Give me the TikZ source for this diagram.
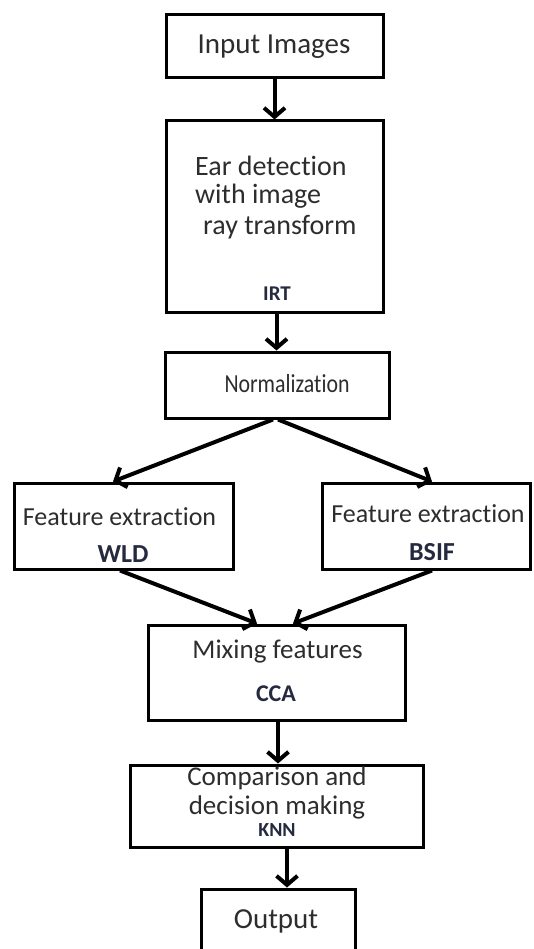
\documentclass[tikz,border=0pt]{standalone}
\usepackage{fontspec}
\setmainfont{Carlito}[Ligatures=NoCommon]
\usetikzlibrary{arrows.meta}
\newcommand\fsz[1]{\fontsize{#1}{#1}\selectfont}
\definecolor{txtgray}{RGB}{45,45,45}
\definecolor{lblnavy}{RGB}{38,42,62}
\begin{document}
\begin{tikzpicture}[x=1pt,y=-1pt,
  box/.style={draw=black,line width=3pt,rectangle,inner sep=0pt,fill=white},
  txt/.style={anchor=base,inner sep=0pt,text=txtgray},
  txtw/.style={anchor=base west,inner sep=0pt,text=txtgray},
  lbl/.style={anchor=base,inner sep=0pt,text=lblnavy},
  arr/.style={line width=4pt,-{Straight Barb[length=9pt,width=21pt]}}]
\clip (0,0) rectangle (533,949);
\fill[white] (0,0) rectangle (533,949);
% boxes
\node[box,minimum width=217pt,minimum height=63pt] (in)   at (274.5,46.5) {};
\node[box,minimum width=217pt,minimum height=191pt] (ear) at (274.5,216.5) {};
\node[box,minimum width=224pt,minimum height=66pt] (norm) at (277,385) {};
\node[box,minimum width=219pt,minimum height=86pt] (wld)  at (123.5,526) {};
\node[box,minimum width=208pt,minimum height=86pt] (bsif) at (426,526) {};
\node[box,minimum width=257pt,minimum height=95pt] (mix)  at (276.5,672.5) {};
\node[box,minimum width=293pt,minimum height=82pt] (comp) at (276.5,806) {};
\node[box,minimum width=154pt,minimum height=100pt] (out) at (278,939) {};
% texts
\node[txt,font=\fsz{29}] (tin) at (274,54) {Input Images};
\node[txtw,font=\fsz{28}] (tear1) at (195,176) {Ear detection};
\node[txtw,font=\fsz{28}] (tear2) at (195,204) {with image};
\node[txtw,font=\fsz{28}] (tear3) at (203,235) {ray transform};
\node[lbl,font=\fsz{21}\bfseries] (tirt) at (277,300) {IRT};
\node[txt,font=\fsz{26}\addfontfeature{FakeStretch=0.84}] (tnorm) at (287,392) {Normalization};
\node[txt,font=\fsz{26}] (tfe1) at (119.5,525) {Feature extraction};
\node[lbl,font=\fsz{26}\bfseries] (twld) at (123,562) {WLD};
\node[txt,font=\fsz{26}] (tfe2) at (428,522) {Feature extraction};
\node[lbl,font=\fsz{26}\bfseries] (tbsif) at (432,560) {BSIF};
\node[txt,font=\fsz{27}] (tmix) at (277.5,658) {Mixing features};
\node[lbl,font=\fsz{24}\bfseries] (tcca) at (276,701) {CCA};
\node[txt,font=\fsz{27}] (tcmp1) at (277,785) {Comparison and};
\node[txt,font=\fsz{27}] (tcmp2) at (277,814) {decision making};
\node[lbl,font=\fsz{20}\bfseries] (tknn) at (277,836) {KNN};
\node[txt,font=\fsz{29}] (tout) at (276,928) {Output};
% arrows
\draw[arr] (in.south) -- (ear.north);
\draw[arr] ([xshift=2pt]ear.south) -- ([xshift=2pt]norm.north -| ear.south);
\draw[arr] ([xshift=-4pt]norm.south) -- ([xshift=-10.5pt]wld.north);
\draw[arr] ([xshift=1pt]norm.south) -- ([xshift=6pt]bsif.north);
\draw[arr] ([xshift=-3.5pt]wld.south) -- ([xshift=-19.5pt]mix.north);
\draw[arr] ([xshift=6pt]bsif.south) -- ([xshift=16.5pt]mix.north);
\draw[arr] ([xshift=1.5pt]mix.south) -- ([xshift=1.5pt]comp.north);
\draw[arr] ([xshift=10.5pt]comp.south) -- ([xshift=9pt]out.north);
\end{tikzpicture}
\end{document}
